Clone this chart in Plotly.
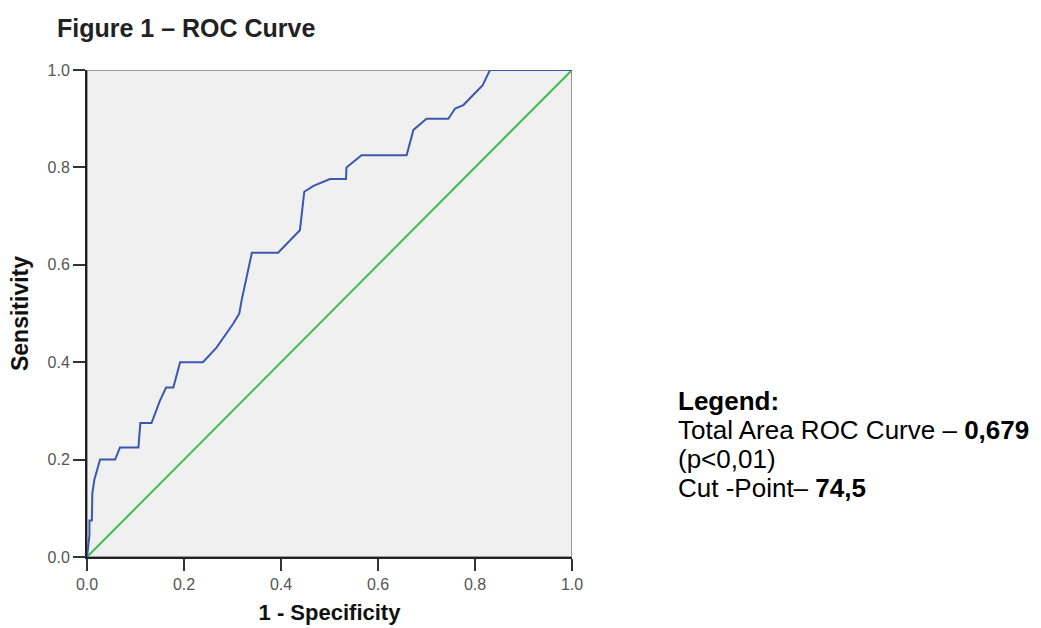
import plotly.graph_objects as go

# ROC curve points (1 - specificity, sensitivity)
fpr = [0.0, 0.005, 0.005, 0.010, 0.011, 0.015, 0.027, 0.058, 0.068, 0.106, 0.110,
       0.133, 0.150, 0.163, 0.178, 0.192, 0.239, 0.267, 0.288, 0.302, 0.314, 0.319,
       0.340, 0.394, 0.439, 0.448, 0.467, 0.480, 0.501, 0.534, 0.535, 0.566, 0.659,
       0.673, 0.700, 0.745, 0.759, 0.776, 0.797, 0.816, 0.824, 0.831, 1.0]
tpr = [0.0, 0.045, 0.075, 0.075, 0.130, 0.158, 0.200, 0.200, 0.225, 0.225, 0.275,
       0.275, 0.320, 0.348, 0.348, 0.400, 0.400, 0.430, 0.460, 0.480, 0.500, 0.528,
       0.625, 0.625, 0.671, 0.750, 0.762, 0.767, 0.776, 0.776, 0.800, 0.825, 0.825,
       0.877, 0.900, 0.900, 0.921, 0.928, 0.949, 0.969, 0.986, 1.0, 1.0]
ref_x = [0.0, 1.0]
ref_y = [0.0, 1.0]
tick_vals = [0.0, 0.2, 0.4, 0.6, 0.8, 1.0]
tick_text = ["0.0", "0.2", "0.4", "0.6", "0.8", "1.0"]
legend_lines = ["<b>Legend:</b>",
                "Total Area ROC Curve – <b>0,679</b>",
                "(p<0,01)",
                "Cut -Point– <b>74,5</b>"]

FONT = "Liberation Sans, Arial"

fig = go.Figure()
fig.add_trace(go.Scatter(x=ref_x, y=ref_y, mode="lines",
                         line=dict(color="#3cbf4a", width=2), showlegend=False))
fig.add_trace(go.Scatter(x=fpr, y=tpr, mode="lines",
                         line=dict(color="#3b57b0", width=2), showlegend=False))

axis_common = dict(range=[0, 1], tickvals=tick_vals, ticktext=tick_text,
                   showgrid=False, zeroline=False, showline=True,
                   linecolor="#222", linewidth=2, ticks="outside",
                   ticklen=12, tickwidth=2, tickcolor="#333", automargin=False,
                   tickfont=dict(family=FONT, size=16, color="#555"))

annotations = []
line_y = [0.3203, 0.2608, 0.2012, 0.1417]
for txt, yy in zip(legend_lines, line_y):
    annotations.append(dict(xref="paper", yref="paper", x=1.214, y=yy,
                            xanchor="left", yanchor="middle", align="left",
                            showarrow=False, text=txt,
                            font=dict(family=FONT, size=26, color="#000")))

fig.update_layout(
    width=1041, height=628,
    margin=dict(l=87, r=469, t=70, b=71, autoexpand=False),
    paper_bgcolor="white", plot_bgcolor="#f0f0f0",
    title=dict(text="<b>Figure 1 – ROC Curve</b>", x=57 / 1041, xanchor="left",
               y=1 - 28 / 628, yanchor="middle",
               font=dict(family=FONT, size=25, color="#222")),
    xaxis=dict(**axis_common,
               title=dict(text="<b>1 - Specificity</b>", standoff=12,
                          font=dict(family=FONT, size=22, color="#111"))),
    yaxis=dict(**axis_common,
               title=dict(text="<b>Sensitivity</b>", standoff=12,
                          font=dict(family=FONT, size=23, color="#111"))),
    shapes=[dict(type="rect", xref="x", yref="y", x0=0, y0=0, x1=1, y1=1,
                 line=dict(color="#999", width=2), layer="below")],
    annotations=annotations,
)

fig.write_html("out.html", config={"displayModeBar": False},
               post_script="document.body.style.margin='0';document.body.style.overflow='hidden';")
